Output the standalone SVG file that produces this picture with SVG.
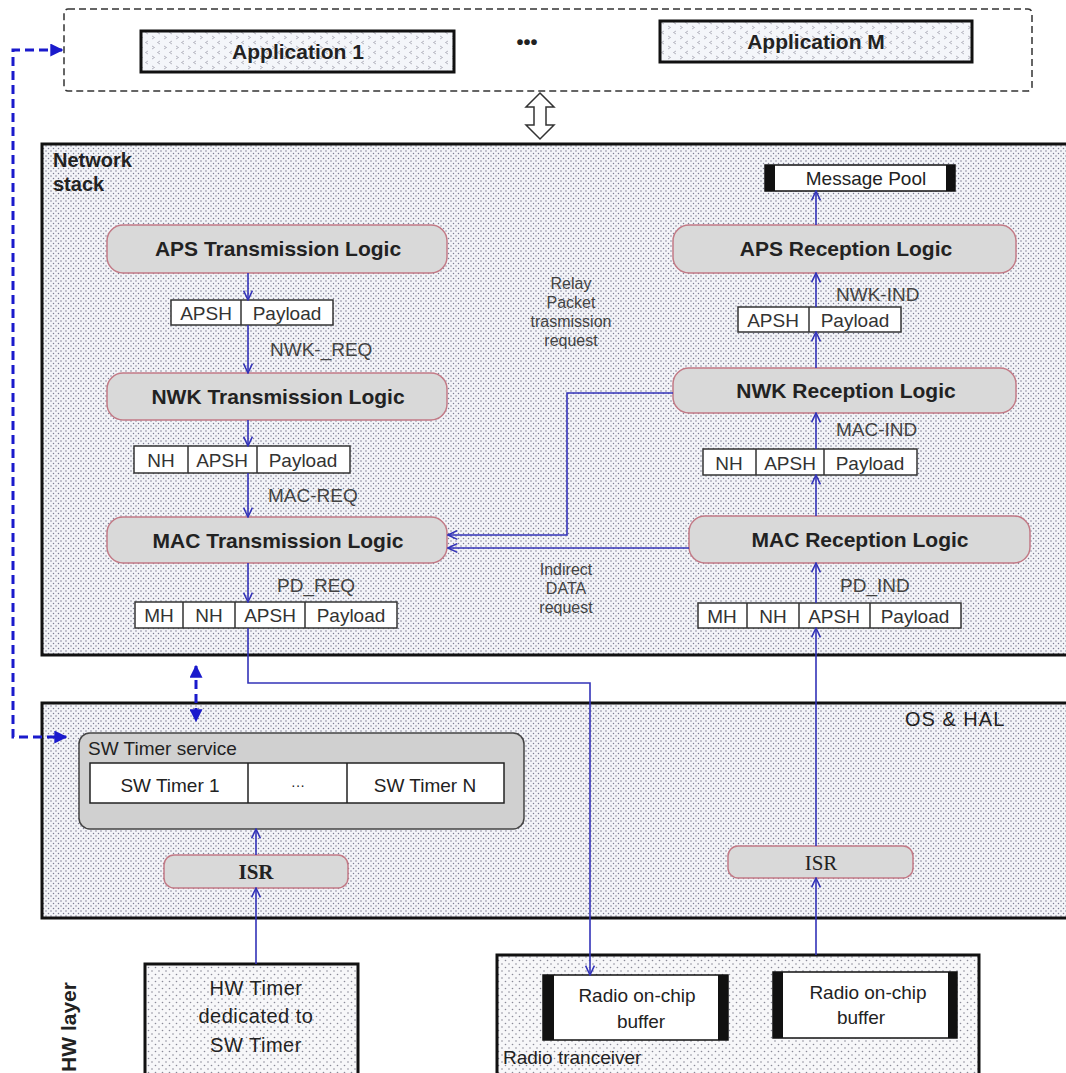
<svg xmlns="http://www.w3.org/2000/svg" width="1066" height="1073" viewBox="0 0 1066 1073">
<style>
text{font-family:"Liberation Sans","DejaVu Sans",sans-serif;fill:#222}
text.serif{font-family:"Liberation Serif","DejaVu Serif",serif}
.lg{fill:#d9d9d9;stroke:#c27a86;stroke-width:1.5}
.lgt{font-size:21px;font-weight:bold;text-anchor:middle}
.cell{fill:#fff;stroke:#333;stroke-width:1.5}
.ct{font-size:19px;text-anchor:middle;fill:#333}
.lbl{font-size:19px;fill:#444}
.sm{font-size:16px;fill:#444;text-anchor:middle}
.c{fill:none;stroke:#3333b8;stroke-width:1.6}
.d{fill:none;stroke:#1a1acc;stroke-width:3;stroke-dasharray:9,5}
.thick{stroke:#111;stroke-width:3}
.bar{fill:#111}
</style>
<defs>
<pattern id="dots" width="5" height="5" patternUnits="userSpaceOnUse"><rect width="5" height="5" fill="#f3f4f8"/><circle cx="1" cy="1" r="0.75" fill="#7c7c92"/><circle cx="3.5" cy="3.5" r="0.75" fill="#7c7c92"/></pattern>
<pattern id="dots2" width="7" height="7" patternUnits="userSpaceOnUse"><rect width="7" height="7" fill="#f7f7f9"/><circle cx="1.5" cy="1.5" r="0.8" fill="#8a8a98"/><circle cx="5" cy="5" r="0.8" fill="#8a8a98"/></pattern>
<pattern id="zig" width="12" height="10" patternUnits="userSpaceOnUse"><rect width="12" height="10" fill="#f4f6fa"/><path d="M4,1 L1.5,2.5 L4,4 M8,6 L10.5,7.5 L8,9" fill="none" stroke="#9a9aa6" stroke-width="0.7"/></pattern>
<marker id="ah" viewBox="0 0 10 10" refX="9.5" refY="5" markerWidth="11" markerHeight="11" markerUnits="userSpaceOnUse" orient="auto"><path d="M1,1 L9.5,5 L1,9" fill="none" stroke="#3333b8" stroke-width="1.4"/></marker>
<marker id="fh" viewBox="0 0 10 10" refX="9" refY="5" markerWidth="13" markerHeight="13" markerUnits="userSpaceOnUse" orient="auto-start-reverse"><path d="M0,0 L10,5 L0,10 Z" fill="#1a1acc"/></marker>
</defs>
<rect width="1066" height="1073" fill="#fff"/>

<g id="applications">
<rect x="64" y="9" width="968" height="82" rx="4" fill="#fff" stroke="#333" stroke-width="1.5" stroke-dasharray="7,4"/>
<g id="app1"><rect x="141" y="31" width="313" height="41" fill="url(#zig)" stroke="#111" stroke-width="3"/><text x="298" y="59" font-size="21" font-weight="bold" text-anchor="middle">Application 1</text></g>
<text x="527" y="49" font-size="20" font-weight="bold" text-anchor="middle">•••</text>
<g id="appM"><rect x="660" y="21" width="312" height="41" fill="url(#zig)" stroke="#111" stroke-width="3"/><text x="816" y="49" font-size="21" font-weight="bold" text-anchor="middle">Application M</text></g>
</g>
<path id="bidir" d="M540,93 L554,107 L546,107 L546,125 L554,125 L540,139 L526,125 L534,125 L534,107 L526,107 Z" fill="#fff" stroke="#333" stroke-width="1.5"/>

<g id="network-stack">
<rect x="42" y="144" width="1030" height="511" fill="url(#dots)" class="thick"/>
<text x="53" y="167" font-size="20" font-weight="bold">Network</text>
<text x="53" y="191" font-size="20" font-weight="bold">stack</text>
</g>

<g id="aps-tx"><rect class="lg" x="107" y="225" width="340" height="48" rx="16"/><text class="lgt" x="278" y="256">APS  Transmission Logic</text></g>
<g id="pkt-tx1"><rect class="cell" x="171" y="300" width="162" height="25"/><line x1="241" y1="300" x2="241" y2="325" stroke="#333" stroke-width="1.5"/><text class="ct" x="206" y="320">APSH</text><text class="ct" x="287" y="320">Payload</text></g>
<g id="nwk-tx"><rect class="lg" x="107" y="373" width="340" height="47" rx="16"/><text class="lgt" x="278" y="404">NWK Transmission Logic</text></g>
<g id="pkt-tx2"><rect class="cell" x="134" y="446" width="216" height="27"/><path d="M188,446 V473 M257,446 V473" stroke="#333" stroke-width="1.5"/><text class="ct" x="161" y="467">NH</text><text class="ct" x="222" y="467">APSH</text><text class="ct" x="303" y="467">Payload</text></g>
<g id="mac-tx"><rect class="lg" x="107" y="517" width="340" height="46" rx="16"/><text class="lgt" x="278" y="548">MAC Transmission Logic</text></g>
<g id="pkt-tx3"><rect class="cell" x="135" y="602" width="262" height="26"/><path d="M183,602 V628 M235,602 V628 M305,602 V628" stroke="#333" stroke-width="1.5"/><text class="ct" x="159" y="622">MH</text><text class="ct" x="209" y="622">NH</text><text class="ct" x="270" y="622">APSH</text><text class="ct" x="351" y="622">Payload</text></g>

<g id="msg-pool"><rect x="765" y="165" width="190" height="26" fill="#fff" stroke="#111" stroke-width="1.5"/><rect class="bar" x="765" y="165" width="10" height="26"/><rect class="bar" x="946" y="165" width="9" height="26"/><text x="866" y="185" font-size="19" text-anchor="middle" fill="#333">Message  Pool</text></g>
<g id="aps-rx"><rect class="lg" x="673" y="225" width="343" height="48" rx="16"/><text class="lgt" x="846" y="256">APS  Reception Logic</text></g>
<g id="pkt-rx1"><rect class="cell" x="738" y="307" width="163" height="25"/><line x1="809" y1="307" x2="809" y2="332" stroke="#333" stroke-width="1.5"/><text class="ct" x="773" y="327">APSH</text><text class="ct" x="855" y="327">Payload</text></g>
<g id="nwk-rx"><rect class="lg" x="673" y="368" width="343" height="45" rx="16"/><text class="lgt" x="846" y="398">NWK Reception Logic</text></g>
<g id="pkt-rx2"><rect class="cell" x="703" y="449" width="214" height="26"/><path d="M756,449 V475 M824,449 V475" stroke="#333" stroke-width="1.5"/><text class="ct" x="729" y="470">NH</text><text class="ct" x="790" y="470">APSH</text><text class="ct" x="870" y="470">Payload</text></g>
<g id="mac-rx"><rect class="lg" x="689" y="516" width="341" height="47" rx="16"/><text class="lgt" x="860" y="547">MAC Reception Logic</text></g>
<g id="pkt-rx3"><rect class="cell" x="698" y="603" width="263" height="25"/><path d="M747,603 V628 M799,603 V628 M870,603 V628" stroke="#333" stroke-width="1.5"/><text class="ct" x="722" y="623">MH</text><text class="ct" x="773" y="623">NH</text><text class="ct" x="834" y="623">APSH</text><text class="ct" x="915" y="623">Payload</text></g>

<g id="labels">
<text class="lbl" x="270" y="356">NWK-_REQ</text>
<text class="lbl" x="268" y="502">MAC-REQ</text>
<text class="lbl" x="277" y="592">PD_REQ</text>
<text class="lbl" x="836" y="301">NWK-IND</text>
<text class="lbl" x="836" y="436">MAC-IND</text>
<text class="lbl" x="840" y="592">PD_IND</text>
<text class="sm" x="571" y="289">Relay</text>
<text class="sm" x="571" y="308">Packet</text>
<text class="sm" x="571" y="327">trasmission</text>
<text class="sm" x="571" y="346">request</text>
<text class="sm" x="566" y="575">Indirect</text>
<text class="sm" x="566" y="594">DATA</text>
<text class="sm" x="566" y="613">request</text>
</g>

<g id="os-hal">
<rect x="42" y="703" width="1030" height="215" fill="url(#dots)" class="thick"/>
<text x="905" y="726" font-size="20" letter-spacing="1" fill="#333">OS &amp; HAL</text>
</g>
<g id="sw-timer-service">
<rect x="79" y="733" width="445" height="96" rx="11" fill="#d0d0d0" stroke="#444" stroke-width="1.5"/>
<text x="88" y="755" font-size="19" fill="#333">SW Timer  service</text>
<rect x="90" y="763" width="414" height="40" fill="#fff" stroke="#222" stroke-width="1.5"/>
<path d="M248,763 V803 M347,763 V803" stroke="#222" stroke-width="1.5"/>
<text x="170" y="792" font-size="19" text-anchor="middle" fill="#333">SW Timer 1</text>
<text x="298" y="790" font-size="14" text-anchor="middle" fill="#333">···</text>
<text x="425" y="792" font-size="19" text-anchor="middle" fill="#333">SW Timer N</text>
</g>
<g id="isr-timer"><rect class="lg" x="164" y="855" width="184" height="33" rx="10"/><text class="serif" x="256" y="879" font-size="21" font-weight="bold" text-anchor="middle">ISR</text></g>
<g id="isr-radio"><rect class="lg" x="728" y="846" width="185" height="32" rx="10"/><text class="serif" x="821" y="870" font-size="21" text-anchor="middle">ISR</text></g>

<g id="hw-layer">
<text transform="translate(76,1027) rotate(-90)" font-size="21" font-weight="bold" text-anchor="middle">HW layer</text>
</g>
<g id="hw-timer">
<rect x="145" y="964" width="213" height="115" fill="url(#dots2)" class="thick"/>
<text x="256" y="995" font-size="20" text-anchor="middle" letter-spacing="0.5" fill="#333">HW Timer</text>
<text x="256" y="1023" font-size="20" text-anchor="middle" letter-spacing="0.5" fill="#333">dedicated to</text>
<text x="256" y="1052" font-size="20" text-anchor="middle" letter-spacing="0.5" fill="#333">SW Timer</text>
</g>
<g id="radio-transceiver">
<rect x="497" y="955" width="482" height="122" fill="url(#dots2)" class="thick"/>
<text x="503" y="1064" font-size="19" fill="#333">Radio tranceiver</text>
</g>
<g id="buffer-tx">
<rect x="543" y="975" width="185" height="65" fill="#fff" stroke="#111" stroke-width="1.5"/>
<rect class="bar" x="543" y="975" width="11" height="65"/><rect class="bar" x="718" y="975" width="10" height="65"/>
<text x="637" y="1002" font-size="19" text-anchor="middle" fill="#333">Radio on-chip</text>
<text x="641" y="1028" font-size="19" text-anchor="middle" fill="#333">buffer</text>
</g>
<g id="buffer-rx">
<rect x="773" y="972" width="184" height="66" fill="#fff" stroke="#111" stroke-width="1.5"/>
<rect class="bar" x="773" y="972" width="10" height="66"/><rect class="bar" x="948" y="972" width="9" height="66"/>
<text x="868" y="999" font-size="19" text-anchor="middle" fill="#333">Radio on-chip</text>
<text x="861" y="1024" font-size="19" text-anchor="middle" fill="#333">buffer</text>
</g>

<g id="connectors">
<path class="c" d="M248,273 V300" marker-end="url(#ah)"/>
<path class="c" d="M248,325 V373" marker-end="url(#ah)"/>
<path class="c" d="M248,420 V446" marker-end="url(#ah)"/>
<path class="c" d="M248,473 V517" marker-end="url(#ah)"/>
<path class="c" d="M248,563 V602" marker-end="url(#ah)"/>
<path class="c" d="M248,628 V683 H590 V975" marker-end="url(#ah)"/>
<path class="c" d="M816,955 V878" marker-end="url(#ah)"/>
<path class="c" d="M816,846 V628" marker-end="url(#ah)"/>
<path class="c" d="M816,603 V563" marker-end="url(#ah)"/>
<path class="c" d="M816,516 V475" marker-end="url(#ah)"/>
<path class="c" d="M816,449 V413" marker-end="url(#ah)"/>
<path class="c" d="M816,368 V332" marker-end="url(#ah)"/>
<path class="c" d="M816,307 V273" marker-end="url(#ah)"/>
<path class="c" d="M816,225 V191" marker-end="url(#ah)"/>
<path class="c" d="M673,393 H567 V535 H448" marker-end="url(#ah)"/>
<path class="c" d="M689,548 H448" marker-end="url(#ah)"/>
<path class="c" d="M256,964 V888" marker-end="url(#ah)"/>
<path class="c" d="M256,855 V829" marker-end="url(#ah)"/>
<path class="d" d="M62,50 H13 V737 H66" marker-start="url(#fh)" marker-end="url(#fh)"/>
<path class="d" d="M196,666 V721" marker-start="url(#fh)" marker-end="url(#fh)"/>
</g>
</svg>
